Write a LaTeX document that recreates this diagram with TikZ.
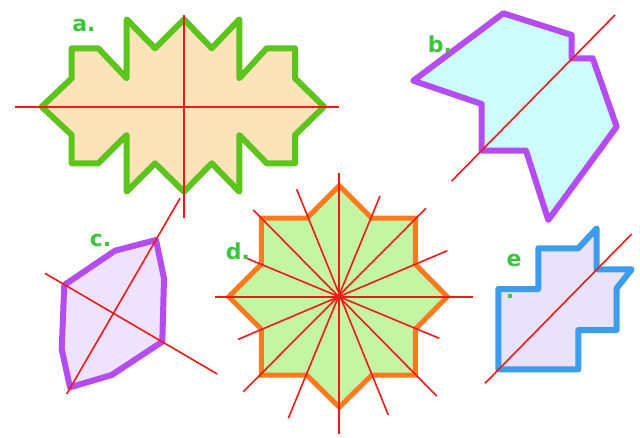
\documentclass[tikz,border=0pt]{standalone}
\usepackage{fontspec}
\setmainfont{DejaVu Sans}
\definecolor{agreen}{HTML}{5CC41C}
\definecolor{apeach}{HTML}{FDE3BA}
\definecolor{bpurple}{HTML}{B44CF2}
\definecolor{bcyan}{HTML}{CCFCFC}
\definecolor{clav}{HTML}{EEE2FC}
\definecolor{dgreen}{HTML}{C4F5A2}
\definecolor{dorange}{HTML}{FF7A1E}
\definecolor{eblue}{HTML}{3C9CEE}
\definecolor{elav}{HTML}{EAE2FA}
\definecolor{lblgreen}{HTML}{3CC43C}
\definecolor{axisred}{HTML}{EE1A1A}
\tikzset{
  shapeA/.style={draw=agreen, fill=apeach, line width=6pt, line join=round},
  shapeB/.style={draw=bpurple, fill=bcyan, line width=6pt, line join=round},
  shapeC/.style={draw=bpurple, fill=clav, line width=6pt, line join=round},
  shapeD/.style={draw=dorange, fill=dgreen, line width=5pt, line join=miter},
  shapeE/.style={draw=eblue, fill=elav, line width=6pt, line join=round},
  axis/.style={draw=axisred, line width=1.6pt},
  lbl/.style={text=lblgreen, font=\bfseries\fontsize{22}{24}\selectfont, inner sep=0pt}
}
\begin{document}
\begin{tikzpicture}[x=1pt,y=-1pt]
\useasboundingbox (0,0) rectangle (640,437);
\fill[white] (0,0) rectangle (640,437);

% ---- a ----
\draw[shapeA] (41.7,106.7) -- (71.7,78.3) -- (71.7,48.3) -- (98.3,48.3) -- (126.7,78.3) -- (126.7,19.3) -- (155,48.3) -- (184,19.3) -- (211.7,48.3) -- (239.3,19.3) -- (239.3,78.3) -- (266.7,48.3) -- (295,48.3) -- (295,78.3) -- (324,106.7) -- (295,135) -- (295,163.3) -- (266.7,163.3) -- (239.3,135) -- (239.3,191.7) -- (211.7,163.3) -- (184,191.7) -- (155,163.3) -- (126.7,191.7) -- (126.7,135) -- (98.3,163.3) -- (71.7,163.3) -- (71.7,135) -- cycle;
\coordinate (aL) at (15,106.7); \coordinate (aR) at (339,106.7);
\coordinate (aT) at (184,15); \coordinate (aB) at (184,218);
\draw[axis] (aL) -- (aR);
\draw[axis] (aT) -- (aB);
\node[lbl] (la) at (84,25) {a.};

% ---- b ----
\draw[shapeB] (503.3,13.3) -- (571.7,35) -- (571.7,58.3) -- (592.7,58.3) -- (616.7,126.7) -- (548.3,220) -- (526,150.7) -- (481.7,150.7) -- (481.7,104) -- (413.3,80.7) -- cycle;
\coordinate (b1) at (451.7,181); \coordinate (b2) at (615,15);
\draw[axis] (b1) -- (b2);
\node[lbl] (lb) at (440,44) {b.};

% ---- c ----
\draw[shapeC] (156,240) -- (164,278.3) -- (162.3,341.7) -- (111.7,375) -- (70,387.3) -- (61.7,349.3) -- (64.3,285) -- (115,250.7) -- cycle;
\coordinate (c1) at (66.7,394); \coordinate (c2) at (180,198.3);
\coordinate (c3) at (45,273.3); \coordinate (c4) at (217.3,374);
\draw[axis] (c1) -- (c2);
\draw[axis] (c3) -- (c4);
\node[lbl] (lc) at (100.5,240) {c.};

% ---- d ----
\draw[shapeD] (339.3,185.7) -- (306.8,218.2) -- (261.3,218.2) -- (261.3,264.2) -- (228.8,296.7) -- (261.3,329.2) -- (261.3,375.2) -- (306.8,375.2) -- (339.3,407.2) -- (371.8,375.2) -- (415.3,375.2) -- (415.3,329.2) -- (447.3,296.7) -- (415.3,264.2) -- (415.3,218.2) -- (371.8,218.2) -- cycle;
\coordinate (d1a) at (339.3,173.3); \coordinate (d1b) at (339.3,434);
\coordinate (d2a) at (215,296.7);   \coordinate (d2b) at (473.3,296.7);
\coordinate (d3a) at (296.7,189.3); \coordinate (d3b) at (388.3,415);
\coordinate (d4a) at (380,196);     \coordinate (d4b) at (288.3,418.3);
\coordinate (d5a) at (253.3,210);   \coordinate (d5b) at (436.7,396);
\coordinate (d6a) at (426,208.3);   \coordinate (d6b) at (243.3,391.7);
\coordinate (d7a) at (246.7,258.3); \coordinate (d7b) at (439.3,338.3);
\coordinate (d8a) at (447.3,250.7); \coordinate (d8b) at (238.3,339.3);
\draw[axis, line width=1.8pt] (d1a) -- (d1b);
\draw[axis] (d2a) -- (d2b);
\draw[axis] (d3a) -- (d3b);
\draw[axis] (d4a) -- (d4b);
\draw[axis] (d5a) -- (d5b);
\draw[axis] (d6a) -- (d6b);
\draw[axis] (d7a) -- (d7b);
\draw[axis] (d8a) -- (d8b);
\node[lbl] (ld) at (238,251) {d.};

% ---- e ----
\draw[shapeE] (498.3,369.3) -- (498.3,289) -- (538.3,289) -- (538.3,248.3) -- (578.3,248.3) -- (596.7,228.3) -- (596.7,269.3) -- (631.7,269.3) -- (616.7,288.3) -- (616.7,330) -- (578.3,330) -- (578.3,369.3) -- cycle;
\coordinate (e1) at (485,383.3); \coordinate (e2) at (631.7,234);
\draw[axis] (e1) -- (e2);
\node[lbl] (le) at (514,260) {e};
\node[lbl] (ledot) at (510,296) {.};
\end{tikzpicture}
\end{document}
